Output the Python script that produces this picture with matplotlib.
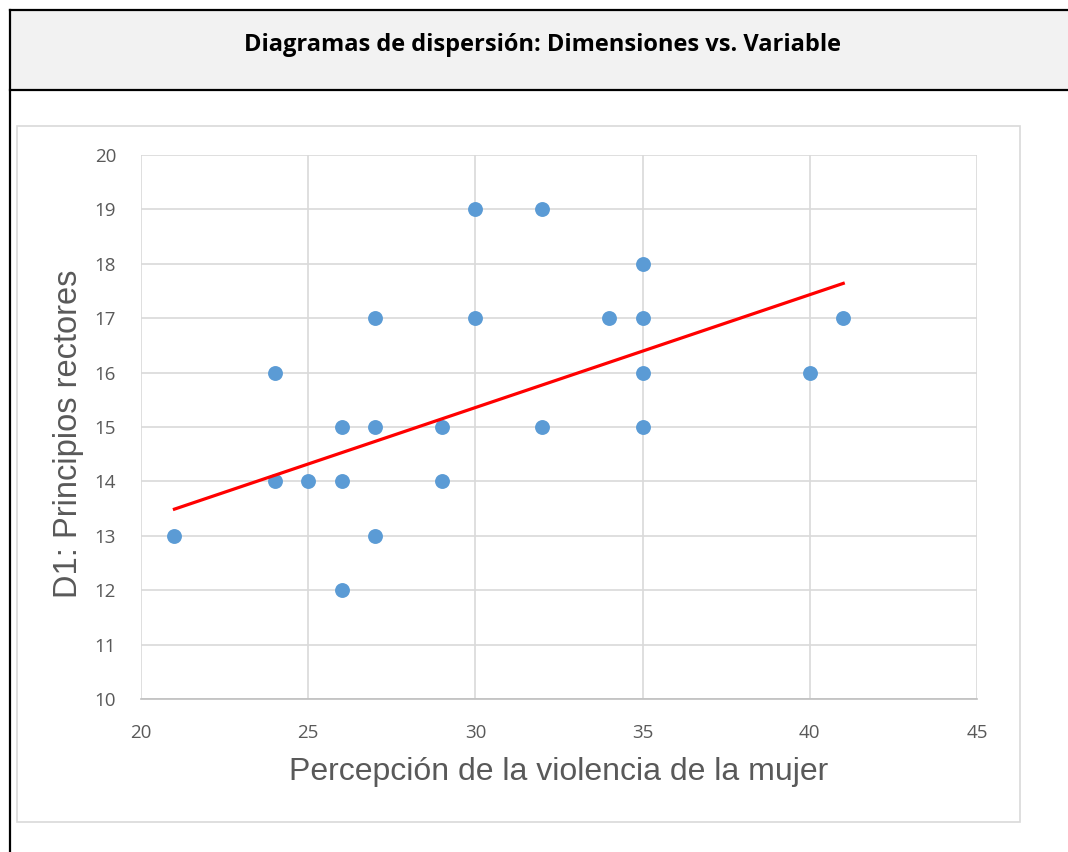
import matplotlib.pyplot as plt
from matplotlib.patches import Rectangle
from matplotlib.lines import Line2D

# data
x_vals = [21, 24, 24, 25, 26, 26, 26, 27, 27, 27, 29, 29, 30, 30, 32, 32, 34, 35, 35, 35, 35, 40, 41]
y_vals = [13, 16, 14, 14, 15, 14, 12, 17, 15, 13, 15, 14, 19, 17, 19, 15, 17, 18, 17, 16, 15, 16, 17]
trend_x = [21, 41]
trend_y = [13.49, 17.64]
x_ticks = [20, 25, 30, 35, 40, 45]
y_ticks = [10, 11, 12, 13, 14, 15, 16, 17, 18, 19, 20]

W, H = 1068, 852
fig = plt.figure(figsize=(W / 100, H / 100), dpi=100)

def fx(px):
    return px / W

def fy(py):
    return 1 - py / H

# table frame with grey header
fig.patches.append(Rectangle((fx(10), fy(90)), fx(1068) - fx(10), fy(10) - fy(90),
                             transform=fig.transFigure, facecolor='#f2f2f2', edgecolor='none', zorder=-2))
for xs, ys in [([10, 10], [10, 852]), ([10, 1068], [10, 10]), ([10, 1068], [90, 90])]:
    fig.lines.append(Line2D([fx(v) for v in xs], [fy(v) for v in ys],
                            transform=fig.transFigure, color='black', lw=1.6, zorder=-1))
fig.text(fx(542), fy(45), 'Diagramas de dispersión: Dimensiones vs. Variable',
         ha='center', va='center', fontsize=17, fontweight='bold', family='Open Sans')

# chart area border
fig.patches.append(Rectangle((fx(17), fy(822)), fx(1020) - fx(17), fy(126) - fy(822),
                             transform=fig.transFigure, facecolor='white', edgecolor='#d9d9d9',
                             lw=1.2, zorder=-1))

ax = fig.add_axes([fx(141), fy(699), fx(977) - fx(141), fy(155) - fy(699)])
ax.set_zorder(2)
ax.set_xlim(20, 45)
ax.set_ylim(10, 20)
ax.set_xticks(x_ticks)
ax.set_yticks(y_ticks)
ax.grid(True, color='#d9d9d9', lw=1.2)
ax.set_axisbelow(True)
for s in ['top', 'right', 'left']:
    ax.spines[s].set_visible(False)
ax.spines['bottom'].set_color('#bfbfbf')
ax.spines['bottom'].set_linewidth(1.2)
ax.tick_params(length=0, labelsize=13.5, colors='#595959', pad=18)
for lab in ax.get_xticklabels() + ax.get_yticklabels():
    lab.set_family('Open Sans')

ax.scatter(x_vals, y_vals, s=115, color='#5b9bd5', zorder=3, linewidths=0)
ax.plot(trend_x, trend_y, color='#ff0000', lw=2.3, zorder=4)

ax.set_xlabel('Percepción de la violencia de la mujer', fontsize=23, color='#595959',
              family='Liberation Sans', va='center')
ax.xaxis.set_label_coords(0.5, -(772 - 699) / 544)
ax.set_ylabel('D1: Principios rectores', fontsize=23.5, color='#595959',
              family='Liberation Sans', va='center')
ax.yaxis.set_label_coords(-(141 - 69) / 836, (699 - 434) / 544)

fig.savefig('out.png', dpi=100)
